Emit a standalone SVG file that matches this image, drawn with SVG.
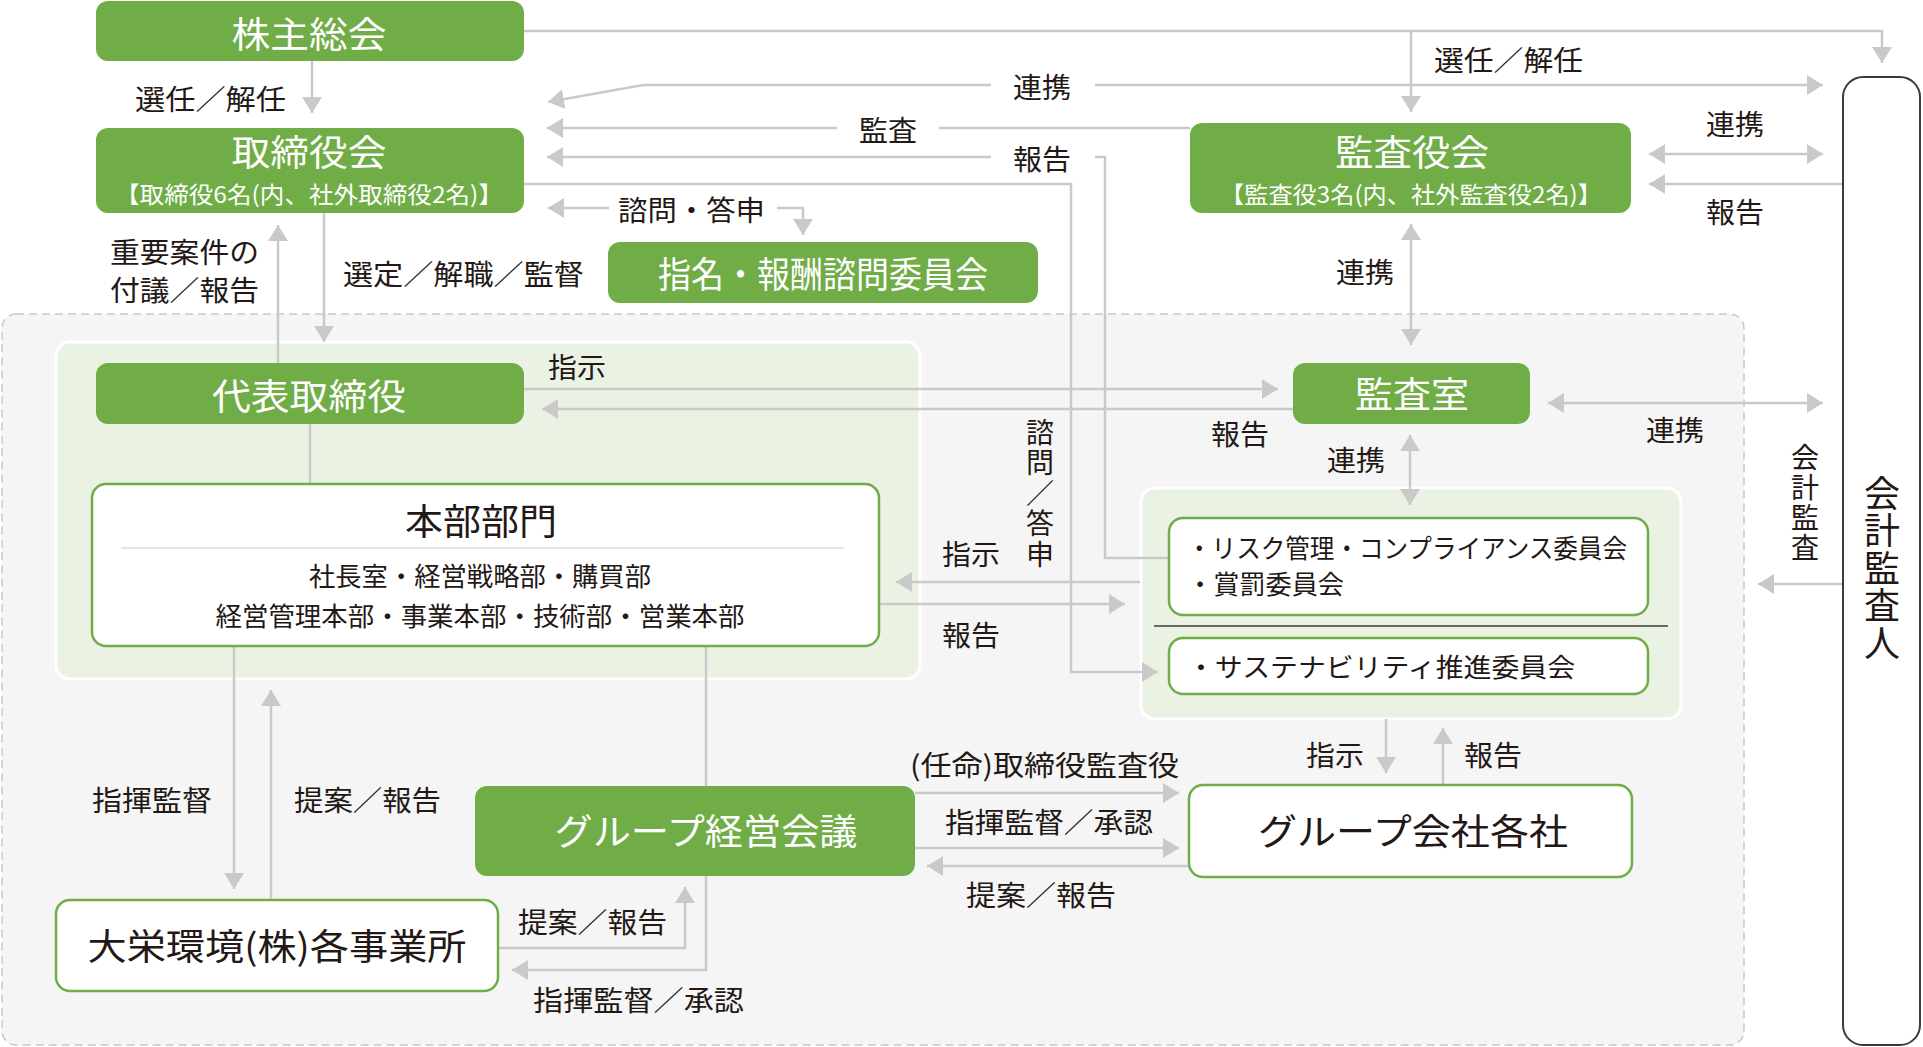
<svg xmlns="http://www.w3.org/2000/svg" width="1923" height="1047" viewBox="0 0 1923 1047">
<style>
text{font-family:"Noto Sans CJK JP","Noto Sans CJK SC",sans-serif;}
.g{fill:#70ad47;}
.wt{fill:#ffffff;font-size:36px;text-anchor:middle;}
.ws{fill:#ffffff;font-size:23px;text-anchor:middle;}
.dt{fill:#231815;font-size:36px;text-anchor:middle;}
.ds{fill:#231815;font-size:26px;}
.lb{fill:#231815;font-size:28px;}
.vert{fill:#231815;writing-mode:vertical-rl;text-orientation:upright;}
.wb{fill:#ffffff;stroke:#70ad47;stroke-width:2.5;}
.region{fill:#eaf2e3;stroke:#ffffff;stroke-width:3;}
.ln{fill:none;stroke:#c9c9c9;stroke-width:2.5;}
.ar{marker-end:url(#ah);}
.ar2{marker-start:url(#ah);marker-end:url(#ah);}
</style>
<defs>
<marker id="ah" viewBox="0 0 16 20" refX="16" refY="10" markerWidth="16" markerHeight="20" markerUnits="userSpaceOnUse" orient="auto-start-reverse"><path d="M0,0 L16,10 L0,20 Z" fill="#c9c9c9"/></marker>
</defs>
<rect width="1923" height="1047" fill="#ffffff"/>

<g id="group-area">
<rect x="2" y="314" width="1742" height="731" rx="14" fill="#f4f5f4" stroke="#c8c8c8" stroke-width="1.5" stroke-dasharray="8 5"/>
<rect class="region" x="56" y="342" width="864" height="337" rx="14"/>
<rect class="region" x="1141" y="488" width="540" height="231" rx="14"/>
</g>

<g id="connectors">
<path class="ln ar" d="M312,61 V113"/>
<path class="ln ar" d="M524,31 H1882 V63"/>
<path class="ln ar" d="M1411,31 V112"/>
<path class="ln ar" d="M1095,85 H1823"/>
<path class="ln ar" d="M991,85 H643 L548,102"/>
<path class="ln" d="M1190,128 H939"/>
<path class="ln ar" d="M837,128 H547"/>
<path class="ln" d="M1169,558 H1105 V157 H1095"/>
<path class="ln ar" d="M991,157 H547"/>
<path class="ln ar" d="M524,184 H1071 V672 H1158"/>
<path class="ln ar" d="M609,208 H548"/>
<path class="ln ar" d="M777,208 H803 V235"/>
<path class="ln ar" d="M278,363 V225"/>
<path class="ln ar" d="M324,213 V342"/>
<path class="ln ar" d="M524,389 H1278"/>
<path class="ln ar" d="M1293,409 H542"/>
<path class="ln ar2" d="M1411,224 V345"/>
<path class="ln ar2" d="M1649,154 H1823"/>
<path class="ln ar" d="M1842,184 H1649"/>
<path class="ln ar2" d="M1548,403 H1823"/>
<path class="ln ar2" d="M1410,435 V505"/>
<path class="ln ar" d="M1842,584 H1758"/>
<path class="ln ar" d="M1140,582 H896"/>
<path class="ln ar" d="M879,604 H1125"/>
<path class="ln" d="M310,424 V484"/>
<path class="ln ar" d="M234,646 V889"/>
<path class="ln ar" d="M271,900 V690"/>
<path class="ln" d="M706,646 V786"/>
<path class="ln ar" d="M498,948 H685 V887"/>
<path class="ln ar" d="M706,876 V970 H512"/>
<path class="ln ar" d="M915,793 H1179"/>
<path class="ln ar" d="M915,848 H1179"/>
<path class="ln ar" d="M1189,866 H927"/>
<path class="ln ar" d="M1386,719 V773"/>
<path class="ln ar" d="M1443,785 V728"/>
</g>

<g id="labels">
<text class="lb" x="135" y="110" textLength="151" lengthAdjust="spacingAndGlyphs">選任／解任</text>
<text class="lb" x="1434" y="71" textLength="149" lengthAdjust="spacingAndGlyphs">選任／解任</text>
<text class="lb" x="1013" y="98" textLength="58" lengthAdjust="spacingAndGlyphs">連携</text>
<text class="lb" x="859" y="141" textLength="58" lengthAdjust="spacingAndGlyphs">監査</text>
<text class="lb" x="1013" y="170" textLength="58" lengthAdjust="spacingAndGlyphs">報告</text>
<text class="lb" x="618" y="221" textLength="147" lengthAdjust="spacingAndGlyphs">諮問・答申</text>
<text class="lb" x="110" y="263" font-size="26" textLength="149" lengthAdjust="spacingAndGlyphs">重要案件の</text>
<text class="lb" x="110" y="301" font-size="26" textLength="149" lengthAdjust="spacingAndGlyphs">付議／報告</text>
<text class="lb" x="343" y="285" textLength="241" lengthAdjust="spacingAndGlyphs">選定／解職／監督</text>
<text class="lb" x="1706" y="135" textLength="58" lengthAdjust="spacingAndGlyphs">連携</text>
<text class="lb" x="1706" y="223" textLength="58" lengthAdjust="spacingAndGlyphs">報告</text>
<text class="lb" x="1336" y="283" textLength="58" lengthAdjust="spacingAndGlyphs">連携</text>
<text class="lb" x="548" y="378" textLength="58" lengthAdjust="spacingAndGlyphs">指示</text>
<text class="lb" x="1211" y="445" textLength="58" lengthAdjust="spacingAndGlyphs">報告</text>
<text class="lb" x="1646" y="441" textLength="58" lengthAdjust="spacingAndGlyphs">連携</text>
<text class="lb" x="1327" y="471" textLength="58" lengthAdjust="spacingAndGlyphs">連携</text>
<text class="lb" x="942" y="565" textLength="58" lengthAdjust="spacingAndGlyphs">指示</text>
<text class="lb" x="942" y="646" textLength="58" lengthAdjust="spacingAndGlyphs">報告</text>
<text class="lb" x="92" y="811" textLength="120" lengthAdjust="spacingAndGlyphs">指揮監督</text>
<text class="lb" x="294" y="811" textLength="147" lengthAdjust="spacingAndGlyphs">提案／報告</text>
<text class="lb" x="518" y="933" textLength="149" lengthAdjust="spacingAndGlyphs">提案／報告</text>
<text class="lb" x="533" y="1011" textLength="211" lengthAdjust="spacingAndGlyphs">指揮監督／承認</text>
<text class="lb" x="910" y="776" textLength="269" lengthAdjust="spacingAndGlyphs">(任命)取締役監査役</text>
<text class="lb" x="945" y="833" textLength="208" lengthAdjust="spacingAndGlyphs">指揮監督／承認</text>
<text class="lb" x="966" y="906" textLength="150" lengthAdjust="spacingAndGlyphs">提案／報告</text>
<text class="lb" x="1306" y="766" textLength="58" lengthAdjust="spacingAndGlyphs">指示</text>
<text class="lb" x="1464" y="766" textLength="58" lengthAdjust="spacingAndGlyphs">報告</text>
<text class="vert" x="1040" y="418" font-size="28" letter-spacing="2.5">諮問／答申</text>
<text class="vert" x="1805" y="443" font-size="28" letter-spacing="2">会計監査</text>
</g>

<g id="shareholders">
<rect class="g" x="96" y="1" width="428" height="60" rx="12"/>
<text class="wt" x="309" y="48" textLength="155" lengthAdjust="spacingAndGlyphs">株主総会</text>
</g>
<g id="board">
<rect class="g" x="96" y="128" width="428" height="85" rx="12"/>
<text class="wt" x="309" y="166" font-size="35" textLength="155" lengthAdjust="spacingAndGlyphs">取締役会</text>
<text class="ws" x="309" y="203" textLength="388" lengthAdjust="spacingAndGlyphs">【取締役6名(内、社外取締役2名)】</text>
</g>
<g id="auditors">
<rect class="g" x="1190" y="123" width="441" height="90" rx="12"/>
<text class="wt" x="1412" y="166" font-size="35" textLength="154" lengthAdjust="spacingAndGlyphs">監査役会</text>
<text class="ws" x="1411" y="203" textLength="382" lengthAdjust="spacingAndGlyphs">【監査役3名(内、社外監査役2名)】</text>
</g>
<g id="nomination">
<rect class="g" x="608" y="242" width="430" height="61" rx="12"/>
<text class="wt" x="823" y="288" textLength="330" lengthAdjust="spacingAndGlyphs">指名・報酬諮問委員会</text>
</g>
<g id="president">
<rect class="g" x="96" y="363" width="428" height="61" rx="12"/>
<text class="wt" x="309" y="410" textLength="194" lengthAdjust="spacingAndGlyphs">代表取締役</text>
</g>
<g id="audit-office">
<rect class="g" x="1293" y="363" width="237" height="61" rx="12"/>
<text class="wt" x="1412" y="408" textLength="114" lengthAdjust="spacingAndGlyphs">監査室</text>
</g>
<g id="headquarters">
<rect class="wb" x="92" y="484" width="787" height="162" rx="14"/>
<text class="dt" x="481" y="535" textLength="152" lengthAdjust="spacingAndGlyphs">本部部門</text>
<line x1="121" y1="548" x2="844" y2="548" stroke="#dcdcdc" stroke-width="1.5"/>
<text class="ds" x="480" y="586" text-anchor="middle" textLength="342" lengthAdjust="spacingAndGlyphs">社長室・経営戦略部・購買部</text>
<text class="ds" x="480" y="626" text-anchor="middle" textLength="529" lengthAdjust="spacingAndGlyphs">経営管理本部・事業本部・技術部・営業本部</text>
</g>
<g id="committees">
<rect class="wb" x="1169" y="518" width="479" height="97" rx="14"/>
<text class="ds" x="1187" y="558" font-size="24" textLength="440" lengthAdjust="spacingAndGlyphs">・リスク管理・コンプライアンス委員会</text>
<text class="ds" x="1187" y="594" font-size="24" textLength="157" lengthAdjust="spacingAndGlyphs">・賞罰委員会</text>
<line x1="1154" y1="626" x2="1668" y2="626" stroke="#3e3a39" stroke-width="1.5"/>
<rect class="wb" x="1169" y="638" width="479" height="56" rx="14"/>
<text class="ds" x="1187" y="677" textLength="388" lengthAdjust="spacingAndGlyphs">・サステナビリティ推進委員会</text>
</g>
<g id="offices">
<rect class="wb" x="56" y="900" width="442" height="91" rx="14"/>
<text class="dt" x="277" y="960" textLength="379" lengthAdjust="spacingAndGlyphs">大栄環境(株)各事業所</text>
</g>
<g id="group-meeting">
<rect class="g" x="475" y="786" width="440" height="90" rx="12"/>
<text class="wt" x="706" y="845" textLength="303" lengthAdjust="spacingAndGlyphs">グループ経営会議</text>
</g>
<g id="group-companies">
<rect class="wb" x="1189" y="785" width="443" height="92" rx="14"/>
<text class="dt" x="1413" y="845" textLength="310" lengthAdjust="spacingAndGlyphs">グループ会社各社</text>
</g>
<g id="accounting-auditor">
<rect x="1843" y="77" width="77" height="968" rx="20" fill="#ffffff" stroke="#3a3a3a" stroke-width="2"/>
<text class="vert" x="1882" y="475" font-size="36" letter-spacing="1.5">会計監査人</text>
</g>
</svg>
